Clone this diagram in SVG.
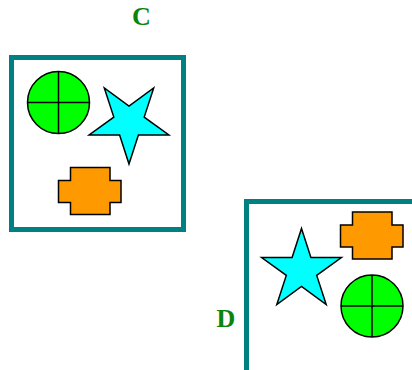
<svg xmlns="http://www.w3.org/2000/svg" width="412" height="370" viewBox="0 0 412 370">
<style>
.frame{fill:#fff;stroke:#008080;stroke-width:5}
.sh{stroke:#000;stroke-width:1.5;stroke-linejoin:miter}
.ball{fill:#00ff00}
.star{fill:#00ffff}
.plus{fill:#ff9900}
.lbl{font-family:"Liberation Serif",serif;font-weight:bold;font-size:26px;fill:#0a840a}
</style>
<defs>
<g id="ballShape">
<circle class="sh ball" cx="0" cy="0" r="31"/>
<line class="sh" x1="-31" y1="0" x2="31" y2="0"/>
<line class="sh" x1="0" y1="-31" x2="0" y2="31"/>
</g>
<polygon id="plusShape" class="sh plus" points="70.5,167.5 110,167.5 110,180.5 121,180.5 121,202.5 110,202.5 110,214.5 70.5,214.5 70.5,202.5 58.5,202.5 58.5,180.5 70.5,180.5"/>
</defs>
<g id="C">
<rect class="frame" x="11.5" y="57.5" width="172" height="172"/>
<text class="lbl" x="141.3" y="24.5" text-anchor="middle">C</text>
<use href="#ballShape" x="58.5" y="102.5"/>
<polygon class="sh star" points="129,164 119.6,134.9 89.1,135 113.8,117.1 104.3,88 129,106 153.7,88 144.2,117.1 168.9,135 138.4,134.9"/>
<use href="#plusShape"/>
</g>
<g id="D">
<rect class="frame" x="246.5" y="201.5" width="172" height="172"/>
<text class="lbl" x="225.8" y="327" text-anchor="middle">D</text>
<polygon class="sh star" points="301.5,228.5 310.9,257.6 341.4,257.5 316.7,275.4 326.2,304.5 301.5,286.5 276.8,304.5 286.3,275.4 261.6,257.5 292.1,257.6"/>
<use href="#plusShape" x="282" y="44.5"/>
<use href="#ballShape" x="372" y="306"/>
</g>
<g id="connectors"></g>
</svg>
